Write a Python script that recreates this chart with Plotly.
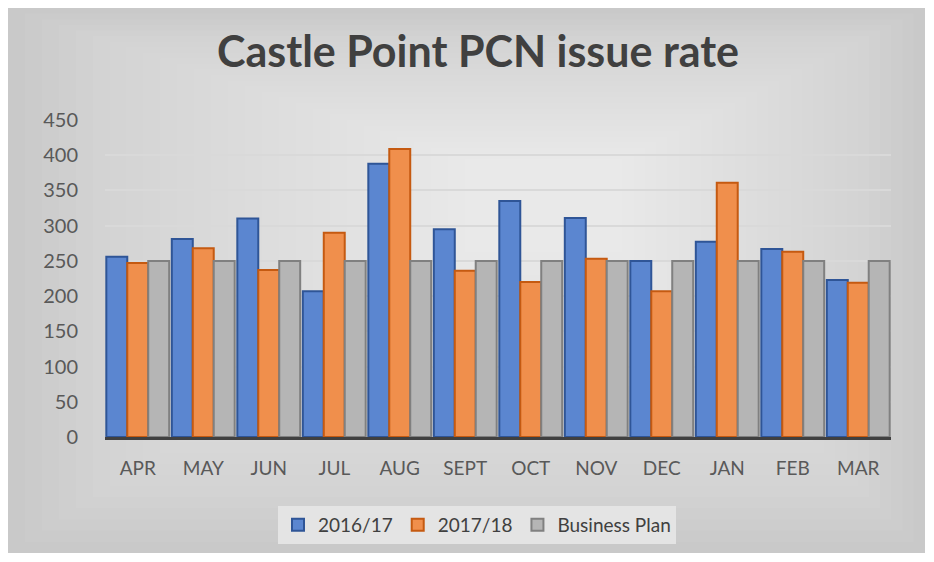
import plotly.graph_objects as go

months = ["APR", "MAY", "JUN", "JUL", "AUG", "SEPT", "OCT", "NOV", "DEC", "JAN", "FEB", "MAR"]
fy_2016_17 = [256, 281, 310, 207, 388, 295, 335, 311, 250, 277, 267, 223]
fy_2017_18 = [247, 268, 237, 290, 409, 236, 220, 253, 207, 361, 263, 219]
business_plan = [250, 250, 250, 250, 250, 250, 250, 250, 250, 250, 250, 250]
y_ticks = [0, 50, 100, 150, 200, 250, 300, 350, 400, 450]

# the page body adds an 8px margin, so work in figure pixels = screen pixels - 8
OFF = 8
W, H = 934 - OFF, 562 - OFF
L, R, T, B = 105 - OFF, 891 - OFF, 120 - OFF, 437 - OFF  # plot area in figure pixels


def px_x(p):
    return (p - OFF - L) / (R - L)


def px_y(p):
    return (B - (p - OFF)) / (B - T)


fig = go.Figure()
series = [
    ("2016/17", fy_2016_17, "#5b86d0", "#2f5597"),
    ("2017/18", fy_2017_18, "#f08f4c", "#c55a11"),
    ("Business Plan", business_plan, "#b5b5b5", "#808080"),
]
for name, vals, fill, edge in series:
    fig.add_trace(go.Bar(
        x=months, y=vals, name=name,
        marker=dict(color=fill, line=dict(color=edge, width=2)),
    ))

# stepped gradient background, lighter towards the upper middle
shapes = [dict(type="rect", xref="paper", yref="paper", layer="below",
               x0=px_x(8), x1=px_x(925), y0=px_y(553), y1=px_y(8),
               fillcolor="#c9c9c9", line=dict(width=0))]
steps = 30
cx, cy = 560, 190
for i in range(1, steps + 1):
    f = i / (steps + 1) * 0.95
    x0 = 8 + (cx - 8) * f
    x1 = 925 - (925 - cx) * f
    y0 = 8 + (cy - 8) * f
    y1 = 553 - (553 - cy) * f
    shapes.append(dict(type="rect", xref="paper", yref="paper", layer="below",
                       x0=px_x(x0), x1=px_x(x1), y0=px_y(y1), y1=px_y(y0),
                       fillcolor="rgba(255,255,255,0.045)", line=dict(width=0)))

fig.update_layout(
    width=W, height=H,
    margin=dict(l=L, r=W - R, t=T, b=H - B),
    paper_bgcolor="white",
    plot_bgcolor="rgba(0,0,0,0)",
    font=dict(family="Lato", color="#595959", size=19),
    title=dict(text="<b>Castle Point PCN issue rate</b>", x=px_x(478), xanchor="center",
               xref="paper", y=1 - (52 - OFF) / H, yanchor="middle",
               font=dict(family="Lato", size=43, color="#404040")),
    barmode="group", bargap=0.04, bargroupgap=0.0,
    showlegend=True,
    legend=dict(orientation="h", x=px_x(477), xanchor="center", y=px_y(525), yanchor="middle",
                bgcolor="#e4e4e4", font=dict(size=19, color="#404040"),
                itemsizing="constant"),
    shapes=shapes,
    xaxis=dict(showline=True, linecolor="#404040", linewidth=3, ticks="",
               tickfont=dict(size=19, color="#595959"), ticklabelstandoff=12),
    yaxis=dict(range=[0, 450], tickvals=y_ticks, showgrid=True, gridcolor="#d9d9d9",
               gridwidth=2, zeroline=False, tickfont=dict(size=20, color="#595959"),
               ticklabelstandoff=26),
)

fig.write_html("out.html")
